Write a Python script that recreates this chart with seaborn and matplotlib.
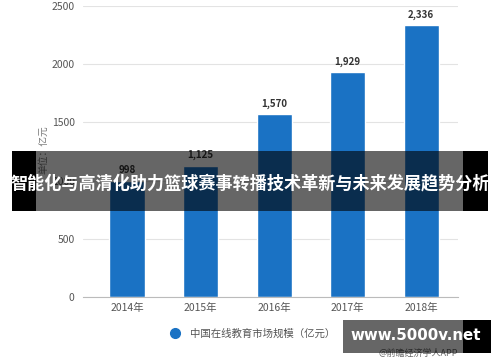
import matplotlib
matplotlib.use("Agg")
import matplotlib.pyplot as plt
import seaborn as sns
import pandas as pd
from matplotlib.patches import Rectangle
from matplotlib.lines import Line2D

years = ["2014年", "2015年", "2016年", "2017年", "2018年"]
values = [998, 1125, 1570, 1929, 2336]
yticks = [0, 500, 1000, 1500, 2000, 2500]
series_name = "中国在线教育市场规模（亿元）"
y_unit = "单位：亿元"
banner_title = "智能化与高清化助力篮球赛事转播技术革新与未来发展趋势分析"
watermark = "www.5000v.net"
source = "@前瞻经济学人APP"

sns.set_theme(style="white")
plt.rcParams['font.family'] = ['Noto Sans CJK SC', 'DejaVu Sans']

W, H = 500, 362
fig = plt.figure(figsize=(W / 100, H / 100), dpi=100)
fig.patch.set_facecolor("white")

def fx(px):
    return px / W

def fy(py):
    return 1 - py / H

ax = fig.add_axes([fx(83), fy(297), fx(458) - fx(83), fy(6) - fy(297)])
blue = "#1a72c4"
df = pd.DataFrame({"year": years, "value": values})
sns.barplot(data=df, x="year", y="value", color=blue, width=0.48, ax=ax, saturation=1)
ax.set_xlim(-0.6, 4.5)
ax.set_ylim(0, 2500)
ax.set_yticks(yticks)
ax.set_yticklabels([str(t) for t in yticks])
ax.set_xlabel("")
ax.set_ylabel("")
for s in ["top", "right", "left"]:
    ax.spines[s].set_visible(False)
ax.spines["bottom"].set_color("#bbbbbb")
ax.spines["bottom"].set_linewidth(0.8)
ax.yaxis.grid(True, color="#e3e3e3", linewidth=0.8)
ax.set_axisbelow(True)
ax.tick_params(axis="both", colors="#555555", labelsize=7.5, length=0, pad=4)
ax.tick_params(axis="y", pad=6)

for i, v in enumerate(values):
    ax.annotate(f"{v:,}", (i, v), xytext=(0, 4), textcoords="offset points",
                ha="center", va="bottom", fontsize=7, fontweight="bold", color="#333333")

fig.text(fx(43), fy(125), y_unit, rotation=90, ha="center", va="top",
         fontsize=7, color="#777777")

handle = Line2D([0], [0], marker="o", color="none", markerfacecolor=blue,
                markeredgecolor=blue, markersize=7)
fig.legend([handle], [series_name], loc="center", bbox_to_anchor=(fx(250), fy(334)),
           frameon=False, fontsize=7.5, labelcolor="#555555", handletextpad=0.5)

fig.text(fx(418), fy(353), source, ha="center", va="center", fontsize=6.5, color="#666666")

# banner overlay
fig.add_artist(Rectangle((fx(12), fy(211)), fx(24), 60 / H, transform=fig.transFigure,
                         facecolor="black", edgecolor="none", zorder=10))
fig.add_artist(Rectangle((fx(463), fy(211)), fx(25), 60 / H, transform=fig.transFigure,
                         facecolor="black", edgecolor="none", zorder=10))
fig.add_artist(Rectangle((fx(36), fy(211)), fx(427), 60 / H, transform=fig.transFigure,
                         facecolor="black", alpha=0.6, edgecolor="none", zorder=10))
fig.text(fx(250), fy(183), banner_title, ha="center", va="center", fontsize=12.3,
         fontweight="bold", color="white", zorder=11)

# watermark box
fig.add_artist(Rectangle((fx(343), fy(353)), fx(120), 33 / H, transform=fig.transFigure,
                         facecolor="black", alpha=0.6, edgecolor="none", zorder=10))
fig.add_artist(Rectangle((fx(463), fy(353)), fx(28), 33 / H, transform=fig.transFigure,
                         facecolor="black", edgecolor="none", zorder=10))
fig.text(fx(416), fy(336), watermark, ha="center", va="center", fontsize=10.8,
         fontweight="bold", color="white", family=["DejaVu Sans"], zorder=11)

fig.savefig("out.png", dpi=100, facecolor="white")
